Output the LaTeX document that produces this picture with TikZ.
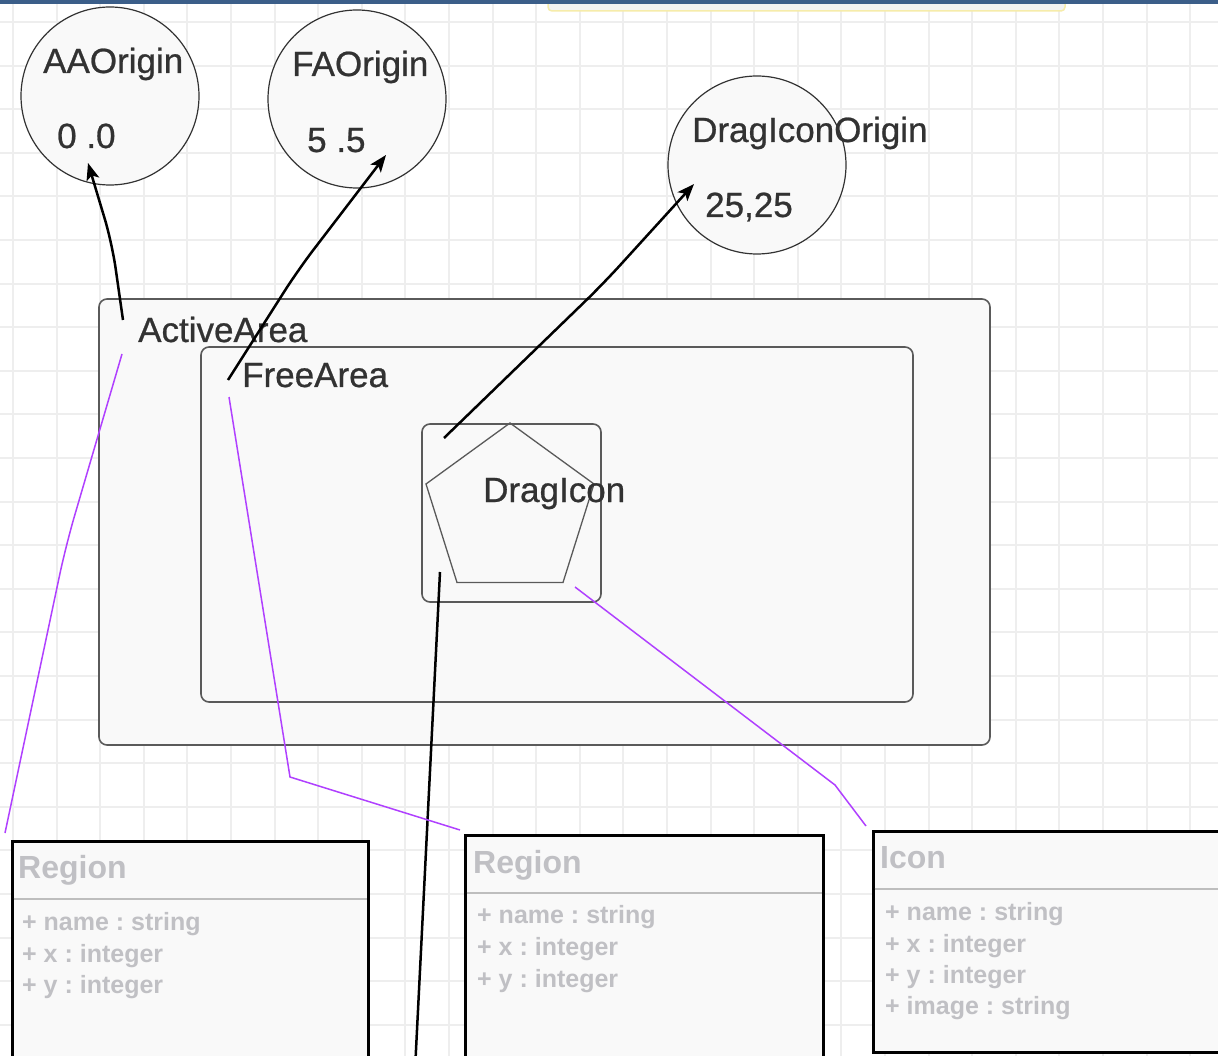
\documentclass[tikz,border=0pt]{standalone}
\usepackage{fontspec}
\setmainfont{Liberation Sans}
\newfontfamily\lblfont{Liberation Sans}[FakeBold=0.7]
\usetikzlibrary{arrows.meta}
\definecolor{gridc}{RGB}{238,238,238}
\definecolor{barblue}{RGB}{59,94,137}
\definecolor{fillc}{RGB}{249,249,249}
\definecolor{edgec}{RGB}{90,90,90}
\definecolor{txtc}{RGB}{50,50,50}
\definecolor{umltxt}{RGB}{192,192,196}
\definecolor{sepc}{RGB}{190,190,190}
\definecolor{purp}{RGB}{176,64,255}
\definecolor{yel}{RGB}{246,236,170}
\definecolor{panel}{RGB}{242,242,242}
\tikzset{
  origin/.style={circle, draw=black!80, line width=1.2pt, fill=fillc, minimum size=178pt, inner sep=0pt},
  lbl/.style={font=\lblfont\fontsize{35}{40}\selectfont, text=txtc, inner sep=0pt, anchor=base west},
  area/.style={draw=edgec, line width=1.6pt, fill=fillc, rounded corners=8pt, inner sep=0pt},
  umlbox/.style={draw=black, line width=3pt, fill=fillc, inner sep=0pt},
  umlttl/.style={font=\bfseries\fontsize{32}{38}\selectfont, text=umltxt, inner sep=0pt, anchor=base west},
  umlattr/.style={font=\frenchspacing\bfseries\fontsize{25}{30}\selectfont, text=umltxt, inner sep=0pt, anchor=base west},
  sepline/.style={draw=sepc, line width=2pt},
  blk/.style={draw=black, line width=2.5pt, -{Stealth[length=17pt,width=13pt,inset=4pt]}},
  prp/.style={draw=purp, line width=1.5pt}
}
\begin{document}
\begin{tikzpicture}[x=1pt,y=-1pt]
\useasboundingbox (0,0) rectangle (1218,1056);
\fill[white] (0,0) rectangle (1218,1056);
% grid
\foreach \i in {0,...,27} \draw[gridc, line width=2pt] ({13+43.6*\i},0) -- ++(0,1056);
\foreach \j in {0,...,23} \draw[gridc, line width=2pt] (0,{22+43.6*\j}) -- ++(1218,0);
% top bar and panel
\draw[yel, fill=panel, line width=1.5pt, rounded corners=4pt] (548,-10) rectangle (1065,11);
\fill[barblue] (0,0) rectangle (1218,4.5);

% origin circles
\node[origin] (aao) at (110,96) {};
\node[lbl] (aaot) at (43,73) {AAOrigin};
\node[lbl] (aaov) at (57,148) {0 .0};
\node[origin] (fao) at (357,99) {};
\node[lbl] (faot) at (292,76) {FAOrigin};
\node[lbl] (faov) at (307,152) {5 .5};
\node[origin] (dio) at (757,165) {};
\node[lbl] (diot) at (692,142) {DragIconOrigin};
\node[lbl] (diov) at (705,217) {25,25};

% areas
\node[area, minimum width=891pt, minimum height=446pt] (active) at (544.5,522) {};
\node[lbl] (activet) at (138,342) {ActiveArea};
\node[area, minimum width=712pt, minimum height=355pt] (free) at (557,524.5) {};
\node[lbl] (freet) at (242,387) {FreeArea};
\node[area, minimum width=179pt, minimum height=178pt] (dragbox) at (511.5,513) {};
\draw[draw=edgec, line width=1.3pt, line join=miter] (510,423) -- (594,484) -- (563,582.5) -- (457,582.5) -- (426,484) -- cycle;
\node[lbl] (dragt) at (483,502) {DragIcon};

% UML boxes
\node[umlbox, minimum width=356pt, minimum height=240pt] (reg1) at (190,961) {};
\draw[sepline] (13.5,899) -- (366.5,899);
\node[umlttl] (reg1t) at (18,878) {Region};
\node[umlattr] (reg1a) at (22,930) {+ name : string};
\node[umlattr] (reg1b) at (22,962) {+ x : integer};
\node[umlattr] (reg1c) at (22,993) {+ y : integer};

\node[umlbox, minimum width=358pt, minimum height=246pt] (reg2) at (644,958) {};
\draw[sepline] (466.5,893) -- (821.5,893);
\node[umlttl] (reg2t) at (473,873) {Region};
\node[umlattr] (reg2a) at (477,923) {+ name : string};
\node[umlattr] (reg2b) at (477,955) {+ x : integer};
\node[umlattr] (reg2c) at (477,987) {+ y : integer};

\node[umlbox, minimum width=362pt, minimum height=221pt] (icon) at (1054,941.5) {};
\draw[sepline] (874.5,889) -- (1218,889);
\node[umlttl] (icont) at (880,868) {Icon};
\node[umlattr] (icona) at (885,920) {+ name : string};
\node[umlattr] (iconb) at (885,952) {+ x : integer};
\node[umlattr] (iconc) at (885,983) {+ y : integer};
\node[umlattr] (icond) at (885,1014) {+ image : string};

% connector end points
\coordinate (aaS) at (123,320);
\coordinate (aaM) at (112,243);
\coordinate (aaE) at (88,163);
\coordinate (faS) at (228,380);
\coordinate (faM) at (298,270);
\coordinate (faE) at (386,155);
\coordinate (diS) at (444,438);
\coordinate (diM) at (603,284);
\coordinate (diE) at (694,184);
\coordinate (dlS) at (440,572);
\coordinate (dlE) at (415.5,1060);
\coordinate (p1S) at (122,354);
\coordinate (p1M) at (66,545);
\coordinate (p1E) at (5,833);
\coordinate (p2S) at (229,397);
\coordinate (p2M) at (290,777);
\coordinate (p2E) at (460,830);
\coordinate (p3S) at (575,587);
\coordinate (p3M) at (835,785);
\coordinate (p3E) at (866,826);

% black connectors
\draw[blk, rounded corners=25pt] (aaS) -- (aaM) -- (aaE);
\draw[blk, rounded corners=25pt] (faS) -- (faM) -- (faE);
\draw[blk, rounded corners=25pt] (diS) -- (diM) -- (diE);
\draw[draw=black, line width=2.5pt] (dlS) -- (dlE);

% purple connectors
\draw[prp, rounded corners=30pt] (p1S) -- (p1M) -- (p1E);
\draw[prp] (p2S) -- (p2M) -- (p2E);
\draw[prp] (p3S) -- (p3M) -- (p3E);
\end{tikzpicture}
\end{document}
